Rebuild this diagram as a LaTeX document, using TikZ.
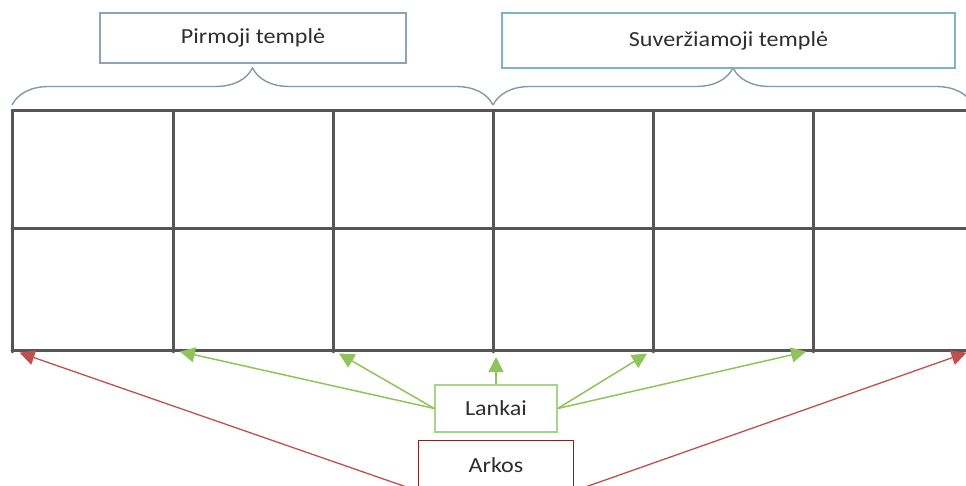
\documentclass[tikz,border=0pt]{standalone}
\usepackage{fontspec}
\setmainfont{Carlito}[FakeStretch=1.12]
\usepackage{xcolor}
\usetikzlibrary{arrows.meta,positioning,calc,decorations.pathreplacing}
\definecolor{gridgray}{HTML}{555555}
\definecolor{bracecol}{HTML}{8199AA}
\definecolor{firstcol}{HTML}{8EA3B3}
\definecolor{secondcol}{HTML}{7DB6C0}
\definecolor{lankgreen}{HTML}{A8D48A}
\definecolor{arrowgreen}{HTML}{8FC45B}
\definecolor{arkred}{HTML}{7E2424}
\definecolor{arrowred}{HTML}{C0504D}
\definecolor{textgray}{HTML}{2E2E2E}
\tikzset{
  labelbox/.style={draw,line width=1.3pt,inner sep=0pt,align=center,text=textgray,
    font=\fontsize{21.5}{25}\selectfont},
  templebox/.style={labelbox,draw=#1},
  lankbox/.style={labelbox,draw=lankgreen,minimum width=122pt,minimum height=47pt},
  arkbox/.style={labelbox,draw=arkred,minimum width=155pt,minimum height=50pt},
  gridline/.style={draw=gridgray,line width=3pt,line cap=round},
  bracepath/.style={draw=bracecol,line width=1.4pt,decorate,
    decoration={brace,amplitude=37pt}},
  greenarrow/.style={-{Triangle[length=15pt,width=15pt]},draw=arrowgreen,line width=1.5pt,
    shorten >=7pt},
  redarrow/.style={-{Triangle[length=15pt,width=15pt]},draw=arrowred,line width=1.3pt,
    shorten >=8pt}
}
\begin{document}
\begin{tikzpicture}[x=1pt,y=-1pt]
  \useasboundingbox (0,0) rectangle (966,486);
  \clip (0,0) rectangle (966,486);
  % grid of the ribs
  \foreach \x in {12,173,333,493,653,813}
    \draw[gridline] (\x,111) -- (\x,352);
  \foreach \y in {111,229,350}
    \draw[gridline] (12,\y) -- (980,\y);
  \foreach \i/\x in {0/12,1/173,2/333,3/493,4/653,5/813,6/974}
    \coordinate (b\i) at (\x,350);
  % braces and their labels
  \draw[bracepath] (12,105) -- (493,105);
  \draw[bracepath] (493,105) -- (973,105);
  \node[templebox=firstcol,minimum width=306pt,minimum height=50pt] (first) at (253,38)
    {Pirmoji templė};
  \node[templebox=secondcol,minimum width=453pt,minimum height=55pt] (second) at (728.5,40.5)
    {Suveržiamoji templė};
  % bottom labels
  \node[lankbox] (lankai) at (496,408.5) {Lankai};
  \node[arkbox,below=7pt of lankai] (arkos) {Arkos};
  \foreach \target in {b1,b2}
    \draw[greenarrow] (lankai.west) -- (\target);
  \draw[greenarrow] (lankai.north) -- (lankai.north |- b3);
  \foreach \target in {b4,b5}
    \draw[greenarrow] (lankai.east) -- (\target);
  \draw[redarrow] (arkos.south west) -- (b0);
  \draw[redarrow] (arkos.south east) -- (b6);
\end{tikzpicture}
\end{document}
